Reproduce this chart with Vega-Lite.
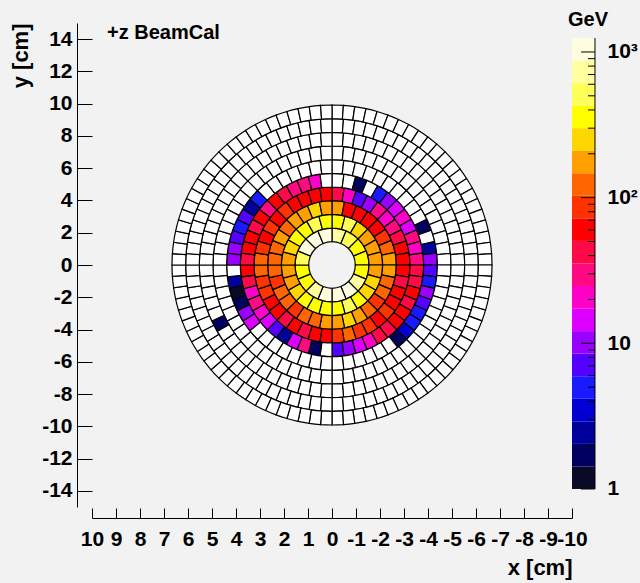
{
"$schema":"https://vega.github.io/schema/vega-lite/v6.json",
"autosize":{"type":"none"},
"width":480,"height":484,
"padding":{"left":92,"top":23,"right":68,"bottom":76},
"background":"#f2f2f2",
"config":{"view":{"stroke":null},"font":"Liberation Sans",
"axis":{"grid":false,"domainColor":"#000","tickColor":"#000","labelColor":"#000","titleColor":"#000","labelFont":"Liberation Sans","titleFont":"Liberation Sans","labelFontSize":21,"titleFontSize":22,"labelFontWeight":"bold","titleFontWeight":"bold","labelFlush":false,"labelOverlap":false,"domainWidth":1,"tickWidth":1}},
"datasets":{
"bar":[{"lo":1,"hi":1.428,"e":1.2},{"lo":1.428,"hi":2.04,"e":1.7},{"lo":2.04,"hi":2.913,"e":2.4},{"lo":2.913,"hi":4.161,"e":3.5},{"lo":4.161,"hi":5.943,"e":5},{"lo":5.943,"hi":8.489,"e":7.1},{"lo":8.489,"hi":12.12,"e":10},{"lo":12.12,"hi":17.31,"e":14.5},{"lo":17.31,"hi":24.73,"e":21},{"lo":24.73,"hi":35.32,"e":29.5},{"lo":35.32,"hi":50.45,"e":42},{"lo":50.45,"hi":72.06,"e":60},{"lo":72.06,"hi":102.9,"e":86},{"lo":102.9,"hi":147,"e":123},{"lo":147,"hi":209.9,"e":176},{"lo":209.9,"hi":299.8,"e":251},{"lo":299.8,"hi":428.2,"e":358},{"lo":428.2,"hi":611.6,"e":512},{"lo":611.6,"hi":873.5,"e":731},{"lo":873.5,"hi":1247,"e":1044}],
"ticks":[{"t":1},{"t":2},{"t":3},{"t":4},{"t":5},{"t":6},{"t":7},{"t":8},{"t":9},{"t":10},{"t":20},{"t":30},{"t":40},{"t":50},{"t":60},{"t":70},{"t":80},{"t":90},{"t":100},{"t":200},{"t":300},{"t":400},{"t":500},{"t":600},{"t":700},{"t":800},{"t":900},{"t":1000}],
"cells":[
{"k":1,"k0":0,"a":0,"b":22.5,"e":731},{"k":1,"k0":0,"a":22.5,"b":45,"e":512},{"k":1,"k0":0,"a":45,"b":67.5,"e":358},{"k":1,"k0":0,"a":67.5,"b":90,"e":358},{"k":1,"k0":0,"a":90,"b":112.5,"e":358},{"k":1,"k0":0,"a":112.5,"b":135,"e":731},{"k":1,"k0":0,"a":135,"b":157.5,"e":1044},{"k":1,"k0":0,"a":157.5,"b":180,"e":1044},{"k":1,"k0":0,"a":180,"b":202.5,"e":1044},{"k":1,"k0":0,"a":202.5,"b":225,"e":731},{"k":1,"k0":0,"a":225,"b":247.5,"e":358},{"k":1,"k0":0,"a":247.5,"b":270,"e":358},{"k":1,"k0":0,"a":270,"b":292.5,"e":512},{"k":1,"k0":0,"a":292.5,"b":315,"e":1044},{"k":1,"k0":0,"a":315,"b":337.5,"e":1044},{"k":1,"k0":0,"a":337.5,"b":360,"e":1044},
{"k":2,"k0":1,"a":0,"b":15,"e":358},{"k":2,"k0":1,"a":15,"b":30,"e":512},{"k":2,"k0":1,"a":30,"b":45,"e":251},{"k":2,"k0":1,"a":45,"b":60,"e":176},{"k":2,"k0":1,"a":60,"b":75,"e":176},{"k":2,"k0":1,"a":75,"b":90,"e":176},{"k":2,"k0":1,"a":90,"b":105,"e":176},{"k":2,"k0":1,"a":105,"b":120,"e":251},{"k":2,"k0":1,"a":120,"b":135,"e":251},{"k":2,"k0":1,"a":135,"b":150,"e":358},{"k":2,"k0":1,"a":150,"b":165,"e":512},{"k":2,"k0":1,"a":165,"b":180,"e":358},{"k":2,"k0":1,"a":180,"b":195,"e":358},{"k":2,"k0":1,"a":195,"b":210,"e":358},{"k":2,"k0":1,"a":210,"b":225,"e":358},{"k":2,"k0":1,"a":225,"b":240,"e":251},{"k":2,"k0":1,"a":240,"b":255,"e":176},{"k":2,"k0":1,"a":255,"b":270,"e":176},{"k":2,"k0":1,"a":270,"b":285,"e":176},{"k":2,"k0":1,"a":285,"b":300,"e":251},{"k":2,"k0":1,"a":300,"b":315,"e":358},{"k":2,"k0":1,"a":315,"b":330,"e":358},{"k":2,"k0":1,"a":330,"b":345,"e":512},{"k":2,"k0":1,"a":345,"b":360,"e":358},
{"k":3,"k0":2,"a":0,"b":11.25,"e":176},{"k":3,"k0":2,"a":11.25,"b":22.5,"e":60},{"k":3,"k0":2,"a":22.5,"b":33.75,"e":60},{"k":3,"k0":2,"a":33.75,"b":45,"e":60},{"k":3,"k0":2,"a":45,"b":56.25,"e":60},{"k":3,"k0":2,"a":56.25,"b":67.5,"e":86},{"k":3,"k0":2,"a":67.5,"b":78.75,"e":123},{"k":3,"k0":2,"a":78.75,"b":90,"e":176},{"k":3,"k0":2,"a":90,"b":101.25,"e":176},{"k":3,"k0":2,"a":101.25,"b":112.5,"e":123},{"k":3,"k0":2,"a":112.5,"b":123.75,"e":123},{"k":3,"k0":2,"a":123.75,"b":135,"e":86},{"k":3,"k0":2,"a":135,"b":146.25,"e":123},{"k":3,"k0":2,"a":146.25,"b":157.5,"e":176},{"k":3,"k0":2,"a":157.5,"b":168.75,"e":251},{"k":3,"k0":2,"a":168.75,"b":180,"e":176},{"k":3,"k0":2,"a":180,"b":191.25,"e":176},{"k":3,"k0":2,"a":191.25,"b":202.5,"e":123},{"k":3,"k0":2,"a":202.5,"b":213.75,"e":123},{"k":3,"k0":2,"a":213.75,"b":225,"e":86},{"k":3,"k0":2,"a":225,"b":236.25,"e":123},{"k":3,"k0":2,"a":236.25,"b":247.5,"e":123},{"k":3,"k0":2,"a":247.5,"b":258.75,"e":86},{"k":3,"k0":2,"a":258.75,"b":270,"e":123},{"k":3,"k0":2,"a":270,"b":281.25,"e":123},{"k":3,"k0":2,"a":281.25,"b":292.5,"e":123},{"k":3,"k0":2,"a":292.5,"b":303.75,"e":176},{"k":3,"k0":2,"a":303.75,"b":315,"e":123},{"k":3,"k0":2,"a":315,"b":326.25,"e":176},{"k":3,"k0":2,"a":326.25,"b":337.5,"e":176},{"k":3,"k0":2,"a":337.5,"b":348.75,"e":251},{"k":3,"k0":2,"a":348.75,"b":360,"e":176},
{"k":4,"k0":3,"a":0,"b":9,"e":42},{"k":4,"k0":3,"a":9,"b":18,"e":21},{"k":4,"k0":3,"a":18,"b":27,"e":7.1},{"k":4,"k0":3,"a":27,"b":36,"e":10},{"k":4,"k0":3,"a":36,"b":45,"e":29.5},{"k":4,"k0":3,"a":45,"b":54,"e":21},{"k":4,"k0":3,"a":54,"b":63,"e":29.5},{"k":4,"k0":3,"a":63,"b":72,"e":42},{"k":4,"k0":3,"a":72,"b":81,"e":60},{"k":4,"k0":3,"a":81,"b":90,"e":60},{"k":4,"k0":3,"a":90,"b":99,"e":60},{"k":4,"k0":3,"a":99,"b":108,"e":42},{"k":4,"k0":3,"a":108,"b":117,"e":60},{"k":4,"k0":3,"a":117,"b":126,"e":60},{"k":4,"k0":3,"a":126,"b":135,"e":86},{"k":4,"k0":3,"a":135,"b":144,"e":60},{"k":4,"k0":3,"a":144,"b":153,"e":86},{"k":4,"k0":3,"a":153,"b":162,"e":86},{"k":4,"k0":3,"a":162,"b":171,"e":123},{"k":4,"k0":3,"a":171,"b":180,"e":86},{"k":4,"k0":3,"a":180,"b":189,"e":60},{"k":4,"k0":3,"a":189,"b":198,"e":60},{"k":4,"k0":3,"a":198,"b":207,"e":42},{"k":4,"k0":3,"a":207,"b":216,"e":60},{"k":4,"k0":3,"a":216,"b":225,"e":42},{"k":4,"k0":3,"a":225,"b":234,"e":60},{"k":4,"k0":3,"a":234,"b":243,"e":60},{"k":4,"k0":3,"a":243,"b":252,"e":86},{"k":4,"k0":3,"a":252,"b":261,"e":86},{"k":4,"k0":3,"a":261,"b":270,"e":123},{"k":4,"k0":3,"a":270,"b":279,"e":123},{"k":4,"k0":3,"a":279,"b":288,"e":86},{"k":4,"k0":3,"a":288,"b":297,"e":60},{"k":4,"k0":3,"a":297,"b":306,"e":86},{"k":4,"k0":3,"a":306,"b":315,"e":60},{"k":4,"k0":3,"a":315,"b":324,"e":86},{"k":4,"k0":3,"a":324,"b":333,"e":60},{"k":4,"k0":3,"a":333,"b":342,"e":60},{"k":4,"k0":3,"a":342,"b":351,"e":60},{"k":4,"k0":3,"a":351,"b":360,"e":60},
{"k":5,"k0":4,"a":0,"b":7.5,"e":0},{"k":5,"k0":4,"a":7.5,"b":15,"e":0},{"k":5,"k0":4,"a":15,"b":22.5,"e":1.7},{"k":5,"k0":4,"a":22.5,"b":30,"e":0},{"k":5,"k0":4,"a":30,"b":37.5,"e":5},{"k":5,"k0":4,"a":37.5,"b":45,"e":10},{"k":5,"k0":4,"a":45,"b":52.5,"e":14.5},{"k":5,"k0":4,"a":52.5,"b":60,"e":21},{"k":5,"k0":4,"a":60,"b":67.5,"e":14.5},{"k":5,"k0":4,"a":67.5,"b":75,"e":29.5},{"k":5,"k0":4,"a":75,"b":82.5,"e":21},{"k":5,"k0":4,"a":82.5,"b":90,"e":29.5},{"k":5,"k0":4,"a":90,"b":97.5,"e":42},{"k":5,"k0":4,"a":97.5,"b":105,"e":42},{"k":5,"k0":4,"a":105,"b":112.5,"e":60},{"k":5,"k0":4,"a":112.5,"b":120,"e":42},{"k":5,"k0":4,"a":120,"b":127.5,"e":60},{"k":5,"k0":4,"a":127.5,"b":135,"e":60},{"k":5,"k0":4,"a":135,"b":142.5,"e":42},{"k":5,"k0":4,"a":142.5,"b":150,"e":42},{"k":5,"k0":4,"a":150,"b":157.5,"e":21},{"k":5,"k0":4,"a":157.5,"b":165,"e":14.5},{"k":5,"k0":4,"a":165,"b":172.5,"e":10},{"k":5,"k0":4,"a":172.5,"b":180,"e":7.1},{"k":5,"k0":4,"a":180,"b":187.5,"e":0},{"k":5,"k0":4,"a":187.5,"b":195,"e":1.7},{"k":5,"k0":4,"a":195,"b":202.5,"e":29.5},{"k":5,"k0":4,"a":202.5,"b":210,"e":14.5},{"k":5,"k0":4,"a":210,"b":217.5,"e":2.4},{"k":5,"k0":4,"a":217.5,"b":225,"e":7.1},{"k":5,"k0":4,"a":225,"b":232.5,"e":14.5},{"k":5,"k0":4,"a":232.5,"b":240,"e":21},{"k":5,"k0":4,"a":240,"b":247.5,"e":29.5},{"k":5,"k0":4,"a":247.5,"b":255,"e":21},{"k":5,"k0":4,"a":255,"b":262.5,"e":42},{"k":5,"k0":4,"a":262.5,"b":270,"e":60},{"k":5,"k0":4,"a":270,"b":277.5,"e":42},{"k":5,"k0":4,"a":277.5,"b":285,"e":60},{"k":5,"k0":4,"a":285,"b":292.5,"e":60},{"k":5,"k0":4,"a":292.5,"b":300,"e":42},{"k":5,"k0":4,"a":300,"b":307.5,"e":60},{"k":5,"k0":4,"a":307.5,"b":315,"e":29.5},{"k":5,"k0":4,"a":315,"b":322.5,"e":60},{"k":5,"k0":4,"a":322.5,"b":330,"e":42},{"k":5,"k0":4,"a":330,"b":337.5,"e":29.5},{"k":5,"k0":4,"a":337.5,"b":345,"e":29.5},{"k":5,"k0":4,"a":345,"b":352.5,"e":21},{"k":5,"k0":4,"a":352.5,"b":360,"e":0},
{"k":6,"k0":5,"a":0,"b":6.4286,"e":0},{"k":6,"k0":5,"a":6.4286,"b":12.8571,"e":0},{"k":6,"k0":5,"a":12.8571,"b":19.2857,"e":0},{"k":6,"k0":5,"a":19.2857,"b":25.7143,"e":0},{"k":6,"k0":5,"a":25.7143,"b":32.1429,"e":0},{"k":6,"k0":5,"a":32.1429,"b":38.5714,"e":0},{"k":6,"k0":5,"a":38.5714,"b":45,"e":0},{"k":6,"k0":5,"a":45,"b":51.4286,"e":0},{"k":6,"k0":5,"a":51.4286,"b":57.8571,"e":0},{"k":6,"k0":5,"a":57.8571,"b":64.2857,"e":0},{"k":6,"k0":5,"a":64.2857,"b":70.7143,"e":1.7},{"k":6,"k0":5,"a":70.7143,"b":77.1429,"e":0},{"k":6,"k0":5,"a":77.1429,"b":83.5714,"e":2.4},{"k":6,"k0":5,"a":83.5714,"b":90,"e":10},{"k":6,"k0":5,"a":90,"b":96.4286,"e":7.1},{"k":6,"k0":5,"a":96.4286,"b":102.8571,"e":5},{"k":6,"k0":5,"a":102.8571,"b":109.2857,"e":10},{"k":6,"k0":5,"a":109.2857,"b":115.7143,"e":7.1},{"k":6,"k0":5,"a":115.7143,"b":122.1429,"e":5},{"k":6,"k0":5,"a":122.1429,"b":128.5714,"e":5},{"k":6,"k0":5,"a":128.5714,"b":135,"e":3.5},{"k":6,"k0":5,"a":135,"b":141.4286,"e":1.7},{"k":6,"k0":5,"a":141.4286,"b":147.8571,"e":0},{"k":6,"k0":5,"a":147.8571,"b":154.2857,"e":0},{"k":6,"k0":5,"a":154.2857,"b":160.7143,"e":0},{"k":6,"k0":5,"a":160.7143,"b":167.1429,"e":0},{"k":6,"k0":5,"a":167.1429,"b":173.5714,"e":0},{"k":6,"k0":5,"a":173.5714,"b":180,"e":0},{"k":6,"k0":5,"a":180,"b":186.4286,"e":0},{"k":6,"k0":5,"a":186.4286,"b":192.8571,"e":0},{"k":6,"k0":5,"a":192.8571,"b":199.2857,"e":0},{"k":6,"k0":5,"a":199.2857,"b":205.7143,"e":0},{"k":6,"k0":5,"a":205.7143,"b":212.1429,"e":0},{"k":6,"k0":5,"a":212.1429,"b":218.5714,"e":0},{"k":6,"k0":5,"a":218.5714,"b":225,"e":0},{"k":6,"k0":5,"a":225,"b":231.4286,"e":0},{"k":6,"k0":5,"a":231.4286,"b":237.8571,"e":14.5},{"k":6,"k0":5,"a":237.8571,"b":244.2857,"e":10},{"k":6,"k0":5,"a":244.2857,"b":250.7143,"e":1.7},{"k":6,"k0":5,"a":250.7143,"b":257.1429,"e":1.2},{"k":6,"k0":5,"a":257.1429,"b":263.5714,"e":2.4},{"k":6,"k0":5,"a":263.5714,"b":270,"e":0},{"k":6,"k0":5,"a":270,"b":276.4286,"e":10},{"k":6,"k0":5,"a":276.4286,"b":282.8571,"e":10},{"k":6,"k0":5,"a":282.8571,"b":289.2857,"e":7.1},{"k":6,"k0":5,"a":289.2857,"b":295.7143,"e":5},{"k":6,"k0":5,"a":295.7143,"b":302.1429,"e":7.1},{"k":6,"k0":5,"a":302.1429,"b":308.5714,"e":2.4},{"k":6,"k0":5,"a":308.5714,"b":315,"e":5},{"k":6,"k0":5,"a":315,"b":321.4286,"e":0},{"k":6,"k0":5,"a":321.4286,"b":327.8571,"e":0},{"k":6,"k0":5,"a":327.8571,"b":334.2857,"e":0},{"k":6,"k0":5,"a":334.2857,"b":340.7143,"e":0},{"k":6,"k0":5,"a":340.7143,"b":347.1429,"e":0},{"k":6,"k0":5,"a":347.1429,"b":353.5714,"e":0},{"k":6,"k0":5,"a":353.5714,"b":360,"e":0},
{"k":7,"k0":6,"a":0,"b":5.625,"e":0},{"k":7,"k0":6,"a":5.625,"b":11.25,"e":0},{"k":7,"k0":6,"a":11.25,"b":16.875,"e":0},{"k":7,"k0":6,"a":16.875,"b":22.5,"e":0},{"k":7,"k0":6,"a":22.5,"b":28.125,"e":0},{"k":7,"k0":6,"a":28.125,"b":33.75,"e":0},{"k":7,"k0":6,"a":33.75,"b":39.375,"e":0},{"k":7,"k0":6,"a":39.375,"b":45,"e":0},{"k":7,"k0":6,"a":45,"b":50.625,"e":0},{"k":7,"k0":6,"a":50.625,"b":56.25,"e":0},{"k":7,"k0":6,"a":56.25,"b":61.875,"e":0},{"k":7,"k0":6,"a":61.875,"b":67.5,"e":0},{"k":7,"k0":6,"a":67.5,"b":73.125,"e":0},{"k":7,"k0":6,"a":73.125,"b":78.75,"e":0},{"k":7,"k0":6,"a":78.75,"b":84.375,"e":0},{"k":7,"k0":6,"a":84.375,"b":90,"e":0},{"k":7,"k0":6,"a":90,"b":95.625,"e":0},{"k":7,"k0":6,"a":95.625,"b":101.25,"e":0},{"k":7,"k0":6,"a":101.25,"b":106.875,"e":0},{"k":7,"k0":6,"a":106.875,"b":112.5,"e":0},{"k":7,"k0":6,"a":112.5,"b":118.125,"e":0},{"k":7,"k0":6,"a":118.125,"b":123.75,"e":0},{"k":7,"k0":6,"a":123.75,"b":129.375,"e":0},{"k":7,"k0":6,"a":129.375,"b":135,"e":0},{"k":7,"k0":6,"a":135,"b":140.625,"e":0},{"k":7,"k0":6,"a":140.625,"b":146.25,"e":0},{"k":7,"k0":6,"a":146.25,"b":151.875,"e":0},{"k":7,"k0":6,"a":151.875,"b":157.5,"e":0},{"k":7,"k0":6,"a":157.5,"b":163.125,"e":0},{"k":7,"k0":6,"a":163.125,"b":168.75,"e":0},{"k":7,"k0":6,"a":168.75,"b":174.375,"e":0},{"k":7,"k0":6,"a":174.375,"b":180,"e":0},{"k":7,"k0":6,"a":180,"b":185.625,"e":0},{"k":7,"k0":6,"a":185.625,"b":191.25,"e":0},{"k":7,"k0":6,"a":191.25,"b":196.875,"e":0},{"k":7,"k0":6,"a":196.875,"b":202.5,"e":0},{"k":7,"k0":6,"a":202.5,"b":208.125,"e":0},{"k":7,"k0":6,"a":208.125,"b":213.75,"e":0},{"k":7,"k0":6,"a":213.75,"b":219.375,"e":0},{"k":7,"k0":6,"a":219.375,"b":225,"e":0},{"k":7,"k0":6,"a":225,"b":230.625,"e":0},{"k":7,"k0":6,"a":230.625,"b":236.25,"e":0},{"k":7,"k0":6,"a":236.25,"b":241.875,"e":0},{"k":7,"k0":6,"a":241.875,"b":247.5,"e":0},{"k":7,"k0":6,"a":247.5,"b":253.125,"e":0},{"k":7,"k0":6,"a":253.125,"b":258.75,"e":0},{"k":7,"k0":6,"a":258.75,"b":264.375,"e":0},{"k":7,"k0":6,"a":264.375,"b":270,"e":0},{"k":7,"k0":6,"a":270,"b":275.625,"e":0},{"k":7,"k0":6,"a":275.625,"b":281.25,"e":0},{"k":7,"k0":6,"a":281.25,"b":286.875,"e":0},{"k":7,"k0":6,"a":286.875,"b":292.5,"e":0},{"k":7,"k0":6,"a":292.5,"b":298.125,"e":0},{"k":7,"k0":6,"a":298.125,"b":303.75,"e":0},{"k":7,"k0":6,"a":303.75,"b":309.375,"e":0},{"k":7,"k0":6,"a":309.375,"b":315,"e":0},{"k":7,"k0":6,"a":315,"b":320.625,"e":0},{"k":7,"k0":6,"a":320.625,"b":326.25,"e":0},{"k":7,"k0":6,"a":326.25,"b":331.875,"e":0},{"k":7,"k0":6,"a":331.875,"b":337.5,"e":0},{"k":7,"k0":6,"a":337.5,"b":343.125,"e":0},{"k":7,"k0":6,"a":343.125,"b":348.75,"e":0},{"k":7,"k0":6,"a":348.75,"b":354.375,"e":0},{"k":7,"k0":6,"a":354.375,"b":360,"e":0},
{"k":8,"k0":7,"a":0,"b":5,"e":0},{"k":8,"k0":7,"a":5,"b":10,"e":0},{"k":8,"k0":7,"a":10,"b":15,"e":0},{"k":8,"k0":7,"a":15,"b":20,"e":0},{"k":8,"k0":7,"a":20,"b":25,"e":0},{"k":8,"k0":7,"a":25,"b":30,"e":0},{"k":8,"k0":7,"a":30,"b":35,"e":0},{"k":8,"k0":7,"a":35,"b":40,"e":0},{"k":8,"k0":7,"a":40,"b":45,"e":0},{"k":8,"k0":7,"a":45,"b":50,"e":0},{"k":8,"k0":7,"a":50,"b":55,"e":0},{"k":8,"k0":7,"a":55,"b":60,"e":0},{"k":8,"k0":7,"a":60,"b":65,"e":0},{"k":8,"k0":7,"a":65,"b":70,"e":0},{"k":8,"k0":7,"a":70,"b":75,"e":0},{"k":8,"k0":7,"a":75,"b":80,"e":0},{"k":8,"k0":7,"a":80,"b":85,"e":0},{"k":8,"k0":7,"a":85,"b":90,"e":0},{"k":8,"k0":7,"a":90,"b":95,"e":0},{"k":8,"k0":7,"a":95,"b":100,"e":0},{"k":8,"k0":7,"a":100,"b":105,"e":0},{"k":8,"k0":7,"a":105,"b":110,"e":0},{"k":8,"k0":7,"a":110,"b":115,"e":0},{"k":8,"k0":7,"a":115,"b":120,"e":0},{"k":8,"k0":7,"a":120,"b":125,"e":0},{"k":8,"k0":7,"a":125,"b":130,"e":0},{"k":8,"k0":7,"a":130,"b":135,"e":0},{"k":8,"k0":7,"a":135,"b":140,"e":0},{"k":8,"k0":7,"a":140,"b":145,"e":0},{"k":8,"k0":7,"a":145,"b":150,"e":0},{"k":8,"k0":7,"a":150,"b":155,"e":0},{"k":8,"k0":7,"a":155,"b":160,"e":0},{"k":8,"k0":7,"a":160,"b":165,"e":0},{"k":8,"k0":7,"a":165,"b":170,"e":0},{"k":8,"k0":7,"a":170,"b":175,"e":0},{"k":8,"k0":7,"a":175,"b":180,"e":0},{"k":8,"k0":7,"a":180,"b":185,"e":0},{"k":8,"k0":7,"a":185,"b":190,"e":0},{"k":8,"k0":7,"a":190,"b":195,"e":0},{"k":8,"k0":7,"a":195,"b":200,"e":0},{"k":8,"k0":7,"a":200,"b":205,"e":0},{"k":8,"k0":7,"a":205,"b":210,"e":0},{"k":8,"k0":7,"a":210,"b":215,"e":0},{"k":8,"k0":7,"a":215,"b":220,"e":0},{"k":8,"k0":7,"a":220,"b":225,"e":0},{"k":8,"k0":7,"a":225,"b":230,"e":0},{"k":8,"k0":7,"a":230,"b":235,"e":0},{"k":8,"k0":7,"a":235,"b":240,"e":0},{"k":8,"k0":7,"a":240,"b":245,"e":1.7},{"k":8,"k0":7,"a":245,"b":250,"e":0},{"k":8,"k0":7,"a":250,"b":255,"e":0},{"k":8,"k0":7,"a":255,"b":260,"e":0},{"k":8,"k0":7,"a":260,"b":265,"e":0},{"k":8,"k0":7,"a":265,"b":270,"e":0},{"k":8,"k0":7,"a":270,"b":275,"e":0},{"k":8,"k0":7,"a":275,"b":280,"e":0},{"k":8,"k0":7,"a":280,"b":285,"e":0},{"k":8,"k0":7,"a":285,"b":290,"e":0},{"k":8,"k0":7,"a":290,"b":295,"e":0},{"k":8,"k0":7,"a":295,"b":300,"e":0},{"k":8,"k0":7,"a":300,"b":305,"e":0},{"k":8,"k0":7,"a":305,"b":310,"e":0},{"k":8,"k0":7,"a":310,"b":315,"e":0},{"k":8,"k0":7,"a":315,"b":320,"e":0},{"k":8,"k0":7,"a":320,"b":325,"e":0},{"k":8,"k0":7,"a":325,"b":330,"e":0},{"k":8,"k0":7,"a":330,"b":335,"e":0},{"k":8,"k0":7,"a":335,"b":340,"e":0},{"k":8,"k0":7,"a":340,"b":345,"e":0},{"k":8,"k0":7,"a":345,"b":350,"e":0},{"k":8,"k0":7,"a":350,"b":355,"e":0},{"k":8,"k0":7,"a":355,"b":360,"e":0},
{"k":9,"k0":8,"a":0,"b":4.5,"e":0},{"k":9,"k0":8,"a":4.5,"b":9,"e":0},{"k":9,"k0":8,"a":9,"b":13.5,"e":0},{"k":9,"k0":8,"a":13.5,"b":18,"e":0},{"k":9,"k0":8,"a":18,"b":22.5,"e":0},{"k":9,"k0":8,"a":22.5,"b":27,"e":0},{"k":9,"k0":8,"a":27,"b":31.5,"e":0},{"k":9,"k0":8,"a":31.5,"b":36,"e":0},{"k":9,"k0":8,"a":36,"b":40.5,"e":0},{"k":9,"k0":8,"a":40.5,"b":45,"e":0},{"k":9,"k0":8,"a":45,"b":49.5,"e":0},{"k":9,"k0":8,"a":49.5,"b":54,"e":0},{"k":9,"k0":8,"a":54,"b":58.5,"e":0},{"k":9,"k0":8,"a":58.5,"b":63,"e":0},{"k":9,"k0":8,"a":63,"b":67.5,"e":0},{"k":9,"k0":8,"a":67.5,"b":72,"e":0},{"k":9,"k0":8,"a":72,"b":76.5,"e":0},{"k":9,"k0":8,"a":76.5,"b":81,"e":0},{"k":9,"k0":8,"a":81,"b":85.5,"e":0},{"k":9,"k0":8,"a":85.5,"b":90,"e":0},{"k":9,"k0":8,"a":90,"b":94.5,"e":0},{"k":9,"k0":8,"a":94.5,"b":99,"e":0},{"k":9,"k0":8,"a":99,"b":103.5,"e":0},{"k":9,"k0":8,"a":103.5,"b":108,"e":0},{"k":9,"k0":8,"a":108,"b":112.5,"e":0},{"k":9,"k0":8,"a":112.5,"b":117,"e":0},{"k":9,"k0":8,"a":117,"b":121.5,"e":0},{"k":9,"k0":8,"a":121.5,"b":126,"e":0},{"k":9,"k0":8,"a":126,"b":130.5,"e":0},{"k":9,"k0":8,"a":130.5,"b":135,"e":0},{"k":9,"k0":8,"a":135,"b":139.5,"e":0},{"k":9,"k0":8,"a":139.5,"b":144,"e":0},{"k":9,"k0":8,"a":144,"b":148.5,"e":0},{"k":9,"k0":8,"a":148.5,"b":153,"e":0},{"k":9,"k0":8,"a":153,"b":157.5,"e":0},{"k":9,"k0":8,"a":157.5,"b":162,"e":0},{"k":9,"k0":8,"a":162,"b":166.5,"e":0},{"k":9,"k0":8,"a":166.5,"b":171,"e":0},{"k":9,"k0":8,"a":171,"b":175.5,"e":0},{"k":9,"k0":8,"a":175.5,"b":180,"e":0},{"k":9,"k0":8,"a":180,"b":184.5,"e":0},{"k":9,"k0":8,"a":184.5,"b":189,"e":0},{"k":9,"k0":8,"a":189,"b":193.5,"e":0},{"k":9,"k0":8,"a":193.5,"b":198,"e":0},{"k":9,"k0":8,"a":198,"b":202.5,"e":0},{"k":9,"k0":8,"a":202.5,"b":207,"e":0},{"k":9,"k0":8,"a":207,"b":211.5,"e":0},{"k":9,"k0":8,"a":211.5,"b":216,"e":0},{"k":9,"k0":8,"a":216,"b":220.5,"e":0},{"k":9,"k0":8,"a":220.5,"b":225,"e":0},{"k":9,"k0":8,"a":225,"b":229.5,"e":0},{"k":9,"k0":8,"a":229.5,"b":234,"e":0},{"k":9,"k0":8,"a":234,"b":238.5,"e":0},{"k":9,"k0":8,"a":238.5,"b":243,"e":0},{"k":9,"k0":8,"a":243,"b":247.5,"e":0},{"k":9,"k0":8,"a":247.5,"b":252,"e":0},{"k":9,"k0":8,"a":252,"b":256.5,"e":0},{"k":9,"k0":8,"a":256.5,"b":261,"e":0},{"k":9,"k0":8,"a":261,"b":265.5,"e":0},{"k":9,"k0":8,"a":265.5,"b":270,"e":0},{"k":9,"k0":8,"a":270,"b":274.5,"e":0},{"k":9,"k0":8,"a":274.5,"b":279,"e":0},{"k":9,"k0":8,"a":279,"b":283.5,"e":0},{"k":9,"k0":8,"a":283.5,"b":288,"e":0},{"k":9,"k0":8,"a":288,"b":292.5,"e":0},{"k":9,"k0":8,"a":292.5,"b":297,"e":0},{"k":9,"k0":8,"a":297,"b":301.5,"e":0},{"k":9,"k0":8,"a":301.5,"b":306,"e":0},{"k":9,"k0":8,"a":306,"b":310.5,"e":0},{"k":9,"k0":8,"a":310.5,"b":315,"e":0},{"k":9,"k0":8,"a":315,"b":319.5,"e":0},{"k":9,"k0":8,"a":319.5,"b":324,"e":0},{"k":9,"k0":8,"a":324,"b":328.5,"e":0},{"k":9,"k0":8,"a":328.5,"b":333,"e":0},{"k":9,"k0":8,"a":333,"b":337.5,"e":0},{"k":9,"k0":8,"a":337.5,"b":342,"e":0},{"k":9,"k0":8,"a":342,"b":346.5,"e":0},{"k":9,"k0":8,"a":346.5,"b":351,"e":0},{"k":9,"k0":8,"a":351,"b":355.5,"e":0},{"k":9,"k0":8,"a":355.5,"b":360,"e":0},
{"k":10,"k0":9,"a":0,"b":4.0909,"e":0},{"k":10,"k0":9,"a":4.0909,"b":8.1818,"e":0},{"k":10,"k0":9,"a":8.1818,"b":12.2727,"e":0},{"k":10,"k0":9,"a":12.2727,"b":16.3636,"e":0},{"k":10,"k0":9,"a":16.3636,"b":20.4545,"e":0},{"k":10,"k0":9,"a":20.4545,"b":24.5455,"e":0},{"k":10,"k0":9,"a":24.5455,"b":28.6364,"e":0},{"k":10,"k0":9,"a":28.6364,"b":32.7273,"e":0},{"k":10,"k0":9,"a":32.7273,"b":36.8182,"e":0},{"k":10,"k0":9,"a":36.8182,"b":40.9091,"e":0},{"k":10,"k0":9,"a":40.9091,"b":45,"e":0},{"k":10,"k0":9,"a":45,"b":49.0909,"e":0},{"k":10,"k0":9,"a":49.0909,"b":53.1818,"e":0},{"k":10,"k0":9,"a":53.1818,"b":57.2727,"e":0},{"k":10,"k0":9,"a":57.2727,"b":61.3636,"e":0},{"k":10,"k0":9,"a":61.3636,"b":65.4545,"e":0},{"k":10,"k0":9,"a":65.4545,"b":69.5455,"e":0},{"k":10,"k0":9,"a":69.5455,"b":73.6364,"e":0},{"k":10,"k0":9,"a":73.6364,"b":77.7273,"e":0},{"k":10,"k0":9,"a":77.7273,"b":81.8182,"e":0},{"k":10,"k0":9,"a":81.8182,"b":85.9091,"e":0},{"k":10,"k0":9,"a":85.9091,"b":90,"e":0},{"k":10,"k0":9,"a":90,"b":94.0909,"e":0},{"k":10,"k0":9,"a":94.0909,"b":98.1818,"e":0},{"k":10,"k0":9,"a":98.1818,"b":102.2727,"e":0},{"k":10,"k0":9,"a":102.2727,"b":106.3636,"e":0},{"k":10,"k0":9,"a":106.3636,"b":110.4545,"e":0},{"k":10,"k0":9,"a":110.4545,"b":114.5455,"e":0},{"k":10,"k0":9,"a":114.5455,"b":118.6364,"e":0},{"k":10,"k0":9,"a":118.6364,"b":122.7273,"e":0},{"k":10,"k0":9,"a":122.7273,"b":126.8182,"e":0},{"k":10,"k0":9,"a":126.8182,"b":130.9091,"e":0},{"k":10,"k0":9,"a":130.9091,"b":135,"e":0},{"k":10,"k0":9,"a":135,"b":139.0909,"e":0},{"k":10,"k0":9,"a":139.0909,"b":143.1818,"e":0},{"k":10,"k0":9,"a":143.1818,"b":147.2727,"e":0},{"k":10,"k0":9,"a":147.2727,"b":151.3636,"e":0},{"k":10,"k0":9,"a":151.3636,"b":155.4545,"e":0},{"k":10,"k0":9,"a":155.4545,"b":159.5455,"e":0},{"k":10,"k0":9,"a":159.5455,"b":163.6364,"e":0},{"k":10,"k0":9,"a":163.6364,"b":167.7273,"e":0},{"k":10,"k0":9,"a":167.7273,"b":171.8182,"e":0},{"k":10,"k0":9,"a":171.8182,"b":175.9091,"e":0},{"k":10,"k0":9,"a":175.9091,"b":180,"e":0},{"k":10,"k0":9,"a":180,"b":184.0909,"e":0},{"k":10,"k0":9,"a":184.0909,"b":188.1818,"e":0},{"k":10,"k0":9,"a":188.1818,"b":192.2727,"e":0},{"k":10,"k0":9,"a":192.2727,"b":196.3636,"e":0},{"k":10,"k0":9,"a":196.3636,"b":200.4545,"e":0},{"k":10,"k0":9,"a":200.4545,"b":204.5455,"e":0},{"k":10,"k0":9,"a":204.5455,"b":208.6364,"e":0},{"k":10,"k0":9,"a":208.6364,"b":212.7273,"e":0},{"k":10,"k0":9,"a":212.7273,"b":216.8182,"e":0},{"k":10,"k0":9,"a":216.8182,"b":220.9091,"e":0},{"k":10,"k0":9,"a":220.9091,"b":225,"e":0},{"k":10,"k0":9,"a":225,"b":229.0909,"e":0},{"k":10,"k0":9,"a":229.0909,"b":233.1818,"e":0},{"k":10,"k0":9,"a":233.1818,"b":237.2727,"e":0},{"k":10,"k0":9,"a":237.2727,"b":241.3636,"e":0},{"k":10,"k0":9,"a":241.3636,"b":245.4545,"e":0},{"k":10,"k0":9,"a":245.4545,"b":249.5455,"e":0},{"k":10,"k0":9,"a":249.5455,"b":253.6364,"e":0},{"k":10,"k0":9,"a":253.6364,"b":257.7273,"e":0},{"k":10,"k0":9,"a":257.7273,"b":261.8182,"e":0},{"k":10,"k0":9,"a":261.8182,"b":265.9091,"e":0},{"k":10,"k0":9,"a":265.9091,"b":270,"e":0},{"k":10,"k0":9,"a":270,"b":274.0909,"e":0},{"k":10,"k0":9,"a":274.0909,"b":278.1818,"e":0},{"k":10,"k0":9,"a":278.1818,"b":282.2727,"e":0},{"k":10,"k0":9,"a":282.2727,"b":286.3636,"e":0},{"k":10,"k0":9,"a":286.3636,"b":290.4545,"e":0},{"k":10,"k0":9,"a":290.4545,"b":294.5455,"e":0},{"k":10,"k0":9,"a":294.5455,"b":298.6364,"e":0},{"k":10,"k0":9,"a":298.6364,"b":302.7273,"e":0},{"k":10,"k0":9,"a":302.7273,"b":306.8182,"e":0},{"k":10,"k0":9,"a":306.8182,"b":310.9091,"e":0},{"k":10,"k0":9,"a":310.9091,"b":315,"e":0},{"k":10,"k0":9,"a":315,"b":319.0909,"e":0},{"k":10,"k0":9,"a":319.0909,"b":323.1818,"e":0},{"k":10,"k0":9,"a":323.1818,"b":327.2727,"e":0},{"k":10,"k0":9,"a":327.2727,"b":331.3636,"e":0},{"k":10,"k0":9,"a":331.3636,"b":335.4545,"e":0},{"k":10,"k0":9,"a":335.4545,"b":339.5455,"e":0},{"k":10,"k0":9,"a":339.5455,"b":343.6364,"e":0},{"k":10,"k0":9,"a":343.6364,"b":347.7273,"e":0},{"k":10,"k0":9,"a":347.7273,"b":351.8182,"e":0},{"k":10,"k0":9,"a":351.8182,"b":355.9091,"e":0},{"k":10,"k0":9,"a":355.9091,"b":360,"e":0}
]},
"layer":[
{"layer":[
{"data":{"name":"cells"},
"mark":{"type":"arc","stroke":"#000","strokeWidth":1.2},
"encoding":{
"theta":{"field":"a","type":"quantitative","stack":null,"scale":{"domain":[0,360],"range":[0,6.283185307179586]}},
"theta2":{"field":"b"},
"radius":{"field":"k","type":"quantitative","scale":{"type":"linear","domain":[0,10],"range":[23.3,160],"zero":false}},
"radius2":{"field":"k0"},
"color":{"condition":{"test":"datum.e <= 0","value":"#ffffff"},"field":"e","type":"quantitative","legend":null,
"scale":{"type":"threshold","domain":[1.428,2.04,2.913,4.161,5.943,8.489,12.12,17.31,24.73,35.32,50.45,72.06,102.9,147,209.9,299.8,428.2,611.6,873.5],"range":["#0a0a28","#000060","#00009a","#0000d2","#1a1aff","#5500ff","#9900ff","#dd00ff","#ff00c8","#ff0a82","#ff0a46","#ff0000","#ff3300","#ff6600","#ff9f00","#ffd700","#ffff00","#ffff5a","#ffffa0","#fffde0"]}}}},
{"data":{"values":[{}]},
"mark":{"type":"text","align":"left","baseline":"middle","fontSize":20,"fontWeight":"bold","font":"Liberation Sans","color":"#000"},
"encoding":{
"x":{"datum":9.375,"type":"quantitative","scale":{"domain":[10,-10]},
"axis":{"values":[-10,-9,-8,-7,-6,-5,-4,-3,-2,-1,0,1,2,3,4,5,6,7,8,9,10],"labelExpr":"'' + datum.value","offset":11,"tickSize":-10,"labelPadding":20,"title":"x [cm]","titleAnchor":"end","titlePadding":8,"orient":"bottom"}},
"y":{"datum":14.38,"type":"quantitative","scale":{"domain":[-15,15]},
"axis":{"values":[-14,-12,-10,-8,-6,-4,-2,0,2,4,6,8,10,12,14],"labelExpr":"'' + datum.value","offset":15,"tickSize":-15,"labelPadding":20,"title":"y [cm]","titleAnchor":"end","titlePadding":9,"orient":"left"}},
"text":{"value":"+z BeamCal"}}}
]},
{"layer":[
{"data":{"name":"bar"},
"mark":{"type":"rect"},
"encoding":{
"y":{"field":"lo","type":"quantitative","scale":{"type":"log","domain":[0.752,1581],"nice":false},
"axis":{"orient":"right","offset":23,"domain":false,"ticks":false,"labelPadding":12,"values":[1,10,100,1000],"labelExpr":"datum.value >= 1000 ? '10³' : datum.value >= 100 ? '10²' : datum.value >= 10 ? '10' : '1'","title":null,"labelFontSize":21,"labelBaseline":"middle"}},
"y2":{"field":"hi"},
"x":{"datum":-10,"type":"quantitative","scale":{"domain":[10,-10]},"axis":null},
"x2":{"datum":-10.958},
"color":{"field":"e","type":"quantitative","legend":null,
"scale":{"type":"threshold","domain":[1.428,2.04,2.913,4.161,5.943,8.489,12.12,17.31,24.73,35.32,50.45,72.06,102.9,147,209.9,299.8,428.2,611.6,873.5],"range":["#0a0a28","#000060","#00009a","#0000d2","#1a1aff","#5500ff","#9900ff","#dd00ff","#ff00c8","#ff0a82","#ff0a46","#ff0000","#ff3300","#ff6600","#ff9f00","#ffd700","#ffff00","#ffff5a","#ffffa0","#fffde0"]}}}},
{"data":{"name":"ticks"},
"transform":[{"filter":{"field":"t","oneOf":[1,10,100,1000]}}],
"mark":{"type":"rule","color":"#000","strokeWidth":1},
"encoding":{"y":{"field":"t","type":"quantitative"},"x":{"datum":-10.958,"type":"quantitative","scale":{"domain":[10,-10]},"axis":null},"x2":{"datum":-10.375}}},
{"data":{"name":"ticks"},
"transform":[{"filter":{"not":{"field":"t","oneOf":[1,10,100,1000]}}}],
"mark":{"type":"rule","color":"#000","strokeWidth":1},
"encoding":{"y":{"field":"t","type":"quantitative"},"x":{"datum":-10.958,"type":"quantitative","scale":{"domain":[10,-10]},"axis":null},"x2":{"datum":-10.667}}},
{"data":{"values":[{}]},
"mark":{"type":"rule","color":"#000","strokeWidth":1},
"encoding":{"x":{"datum":-10.958,"type":"quantitative","scale":{"domain":[10,-10]},"axis":null},"y":{"datum":1,"type":"quantitative"},"y2":{"datum":1247}}},
{"data":{"values":[{}]},
"mark":{"type":"text","align":"center","baseline":"middle","fontSize":20,"fontWeight":"bold","font":"Liberation Sans","color":"#000"},
"encoding":{"x":{"datum":-10.667,"type":"quantitative","scale":{"domain":[10,-10]},"axis":null},"y":{"datum":1650,"type":"quantitative"},"text":{"value":"GeV"}}}
]}
],
"resolve":{"scale":{"y":"independent","x":"independent"}}
}
